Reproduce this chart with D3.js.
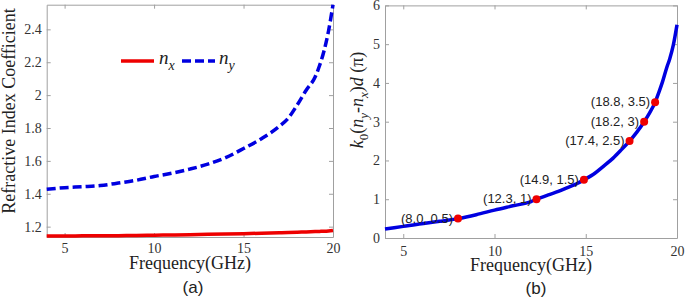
<!DOCTYPE html>
<html>
<head>
<meta charset="utf-8">
<script src="https://cdn.jsdelivr.net/npm/d3@7"></script>
<style>
  body { margin: 0; background: #fff; }
  svg { display: block; }
</style>
</head>
<body>
<div id="chart"></div>
<script>
// --- data ---
const freqN = [4, 5, 6, 7, 8, 9, 10, 11, 12, 13, 14, 15, 16, 17, 17.5, 18, 18.5, 19, 19.25, 19.5, 19.75, 20];
const nx = [1.143, 1.143, 1.144, 1.144, 1.145, 1.146, 1.148, 1.149, 1.151, 1.153, 1.155, 1.157, 1.160, 1.163, 1.164, 1.166, 1.168, 1.170, 1.171, 1.172, 1.174, 1.177];
const ny = [1.427, 1.437, 1.443, 1.450, 1.465, 1.482, 1.505, 1.525, 1.550, 1.580, 1.620, 1.675, 1.735, 1.810, 1.860, 1.940, 2.030, 2.110, 2.180, 2.270, 2.390, 2.550];

const freqK = [4, 5, 6, 7, 8, 9, 10, 11, 12, 12.3, 13, 13.5, 14, 14.5, 14.9, 15.5, 16, 16.5, 17, 17.4, 17.8, 18.2, 18.5, 18.8, 19, 19.2, 19.44, 19.6, 19.8, 20];
const phase = [0.23, 0.30, 0.37, 0.43, 0.50, 0.60, 0.72, 0.83, 0.94, 1.0, 1.12, 1.20, 1.30, 1.40, 1.5, 1.67, 1.86, 2.06, 2.30, 2.5, 2.73, 3.0, 3.23, 3.5, 3.75, 4.02, 4.40, 4.62, 4.98, 5.5];

const markF = [8.0, 12.3, 14.9, 17.4, 18.2, 18.8];
const markV = [0.5, 1, 1.5, 2.5, 3, 3.5];
const markLabels = ["(8.0, 0.5)", "(12.3, 1)", "(14.9, 1.5)", "(17.4, 2.5)", "(18.2, 3)", "(18.8, 3.5)"];

const xTicks = [5, 10, 15, 20];
const yTicksA = [1.2, 1.4, 1.6, 1.8, 2, 2.2, 2.4];
const yTicksB = [0, 1, 2, 3, 4, 5, 6];

const W = 685, H = 299;
const serif = "'Liberation Serif', 'Times New Roman', serif";
const sans = "'Liberation Sans', Arial, sans-serif";
const red = "#ee0000", blue = "#0000e0";

const svg = d3.select("#chart").append("svg")
    .attr("width", W)
    .attr("height", H);

// draws the box, inward ticks on all four sides and tick labels
function frame(x, y, yTicks, yFmt, xPad) {
    const g = svg.append("g");
    const [x0, x1] = x.range();
    const [y0, y1] = y.range();

    g.append("g")
        .attr("transform", "translate(0," + y0 + ")")
        .call(d3.axisBottom(x).tickValues(xTicks).tickSizeInner(-4).tickSizeOuter(0).tickPadding(xPad));
    g.append("g")
        .attr("transform", "translate(0," + y1 + ")")
        .call(d3.axisTop(x).tickValues(xTicks).tickSizeInner(-4).tickSizeOuter(0).tickFormat(""));
    g.append("g")
        .attr("transform", "translate(" + x0 + ",0)")
        .call(d3.axisLeft(y).tickValues(yTicks).tickSizeInner(-4).tickSizeOuter(0).tickPadding(5).tickFormat(yFmt));
    g.append("g")
        .attr("transform", "translate(" + x1 + ",0)")
        .call(d3.axisRight(y).tickValues(yTicks).tickSizeInner(-4).tickSizeOuter(0).tickFormat(""));

    g.selectAll(".domain").attr("stroke", "#a0a0a0");
    g.selectAll(".tick line").attr("stroke", "#a0a0a0");
    g.selectAll(".tick text")
        .attr("fill", "#333")
        .style("font-family", serif)
        .style("font-size", "14px");
    return g;
}

// ---------- (a) refractive index ----------
const xa = d3.scaleLinear().domain([4, 20]).range([46.7, 333]);
const ya = d3.scaleLinear().domain([1.137, 2.55]).range([237, 4.7]);

frame(xa, ya, yTicksA, d3.format("~g"), 6);

const lineA = d3.line().curve(d3.curveMonotoneX);

svg.append("path")
    .attr("d", lineA(freqN.map((f, i) => [xa(f), ya(nx[i])])))
    .attr("fill", "none")
    .attr("stroke", red)
    .attr("stroke-width", 3.5);

svg.append("path")
    .attr("d", lineA(freqN.map((f, i) => [xa(f), ya(ny[i])])))
    .attr("fill", "none")
    .attr("stroke", blue)
    .attr("stroke-width", 3.5)
    .attr("stroke-dasharray", "9,4");

// legend
const lg = svg.append("g").attr("transform", "translate(121,61)");
lg.append("line").attr("x1", 0).attr("x2", 33).attr("stroke", red).attr("stroke-width", 3.5);
lg.append("line").attr("x1", 61).attr("x2", 94).attr("stroke", blue).attr("stroke-width", 3.5)
    .attr("stroke-dasharray", "9,4");
[["x", 38], ["y", 98]].forEach(([s, px]) => {
    const t = lg.append("text")
        .attr("x", px).attr("y", 3)
        .style("font-family", serif).style("font-style", "italic").style("font-size", "19px")
        .attr("fill", "#222");
    t.append("tspan").text("n");
    t.append("tspan").attr("dy", 6).style("font-size", "14px").text(s);
});

svg.append("text")
    .attr("transform", "translate(15,111) rotate(-90)")
    .attr("text-anchor", "middle")
    .style("font-family", serif).style("font-size", "18px")
    .attr("fill", "#222")
    .text("Refractive Index Coefficient");

svg.append("text")
    .attr("x", 190).attr("y", 269)
    .attr("text-anchor", "middle")
    .style("font-family", serif).style("font-size", "18px")
    .attr("fill", "#222")
    .text("Frequency(GHz)");

svg.append("text")
    .attr("x", 193).attr("y", 293)
    .attr("text-anchor", "middle")
    .style("font-family", sans).style("font-size", "17px")
    .attr("fill", "#222")
    .text("(a)");

// ---------- (b) phase difference ----------
const xb = d3.scaleLinear().domain([4, 20]).range([385, 677]);
const yb = d3.scaleLinear().domain([0, 6]).range([238, 5.4]);

frame(xb, yb, yTicksB, d3.format("d"), 8);

svg.append("path")
    .attr("d", lineA(freqK.map((f, i) => [xb(f), yb(phase[i])])))
    .attr("fill", "none")
    .attr("stroke", blue)
    .attr("stroke-width", 3.5);

svg.selectAll(".mark")
    .data(markF)
    .join("circle")
    .attr("class", "mark")
    .attr("cx", d => xb(d))
    .attr("cy", (d, i) => yb(markV[i]))
    .attr("r", 4)
    .attr("fill", red);

svg.selectAll(".mark-label")
    .data(markLabels)
    .join("text")
    .attr("class", "mark-label")
    .attr("x", (d, i) => xb(markF[i]) - 5)
    .attr("y", (d, i) => yb(markV[i]) + 4)
    .attr("text-anchor", "end")
    .style("font-family", sans).style("font-size", "13px")
    .attr("fill", "#222")
    .text(d => d);

const yl = svg.append("text")
    .attr("transform", "translate(363,100) rotate(-90)")
    .attr("text-anchor", "middle")
    .style("font-family", serif).style("font-size", "18px")
    .attr("fill", "#222");
yl.append("tspan").style("font-style", "italic").text("k");
yl.append("tspan").attr("dy", 5).style("font-size", "13px").text("0");
yl.append("tspan").attr("dy", -5).text("(");
yl.append("tspan").style("font-style", "italic").text("n");
yl.append("tspan").attr("dy", 5).style("font-size", "13px").style("font-style", "italic").text("y");
yl.append("tspan").attr("dy", -5).text("-");
yl.append("tspan").style("font-style", "italic").text("n");
yl.append("tspan").attr("dy", 5).style("font-size", "13px").style("font-style", "italic").text("x");
yl.append("tspan").attr("dy", -5).text(")");
yl.append("tspan").style("font-style", "italic").text("d");
yl.append("tspan").text(" (\u03c0)");

svg.append("text")
    .attr("x", 531).attr("y", 271)
    .attr("text-anchor", "middle")
    .style("font-family", serif).style("font-size", "18px")
    .attr("fill", "#222")
    .text("Frequency(GHz)");

svg.append("text")
    .attr("x", 536).attr("y", 294)
    .attr("text-anchor", "middle")
    .style("font-family", sans).style("font-size", "17px")
    .attr("fill", "#222")
    .text("(b)");
</script>
</body>
</html>
